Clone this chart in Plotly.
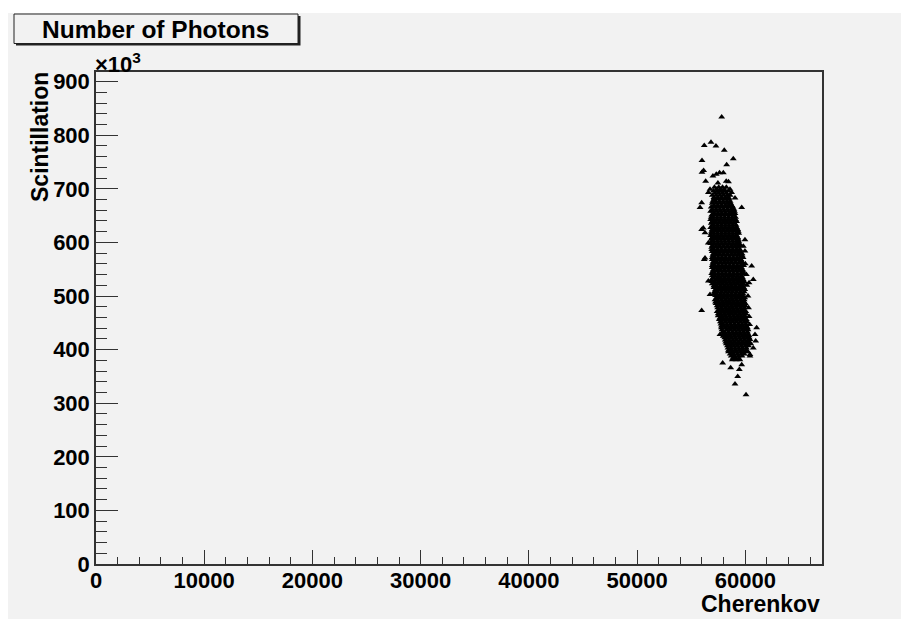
import plotly.graph_objects as go

# ---------------- data ----------------
# Dense core of the cloud: one scintillation value (x10^3) per row,
# with the Cherenkov values seen along that row.
body_scint = [703, 696, 688, 681, 673, 666, 658, 651, 643, 636, 628, 621, 613,
              606, 598, 591, 583, 576, 568, 561, 553, 546, 538, 531, 523, 516,
              508, 501, 493, 486, 478, 471, 463, 456, 448, 441, 433, 426, 418,
              411, 403, 396, 388, 381]
body_cherenkov = [
    [57150, 57550, 57900, 58250],
    [57050, 57400, 57750, 58100, 58450],
    [56950, 57300, 57650, 58000, 58350, 58600],
    [57100, 57450, 57800, 58150, 58500],
    [56950, 57300, 57650, 58000, 58350, 58650],
    [56850, 57150, 57500, 57850, 58200, 58550, 58850],
    [56800, 57000, 57350, 57700, 58050, 58400, 58750, 59000],
    [56900, 57200, 57550, 57900, 58250, 58600, 58950],
    [56800, 57050, 57400, 57750, 58100, 58450, 58800, 59100],
    [56850, 57250, 57600, 57950, 58300, 58650, 59000],
    [56800, 57100, 57450, 57800, 58150, 58500, 58850, 59200],
    [56900, 57250, 57600, 57950, 58300, 58650, 59000, 59350],
    [56800, 57100, 57450, 57800, 58150, 58500, 58850, 59200],
    [56850, 57250, 57600, 57950, 58300, 58650, 59000, 59350],
    [56800, 57100, 57450, 57800, 58150, 58500, 58850, 59200, 59450],
    [56900, 57250, 57600, 57950, 58300, 58650, 59000, 59350],
    [56950, 57100, 57450, 57800, 58150, 58500, 58850, 59200, 59550],
    [57000, 57300, 57650, 58000, 58350, 58700, 59050, 59400, 59700],
    [56950, 57150, 57500, 57850, 58200, 58550, 58900, 59250, 59600],
    [57000, 57350, 57700, 58050, 58400, 58750, 59100, 59450, 59750],
    [56950, 57200, 57550, 57900, 58250, 58600, 58950, 59300, 59650],
    [57000, 57350, 57700, 58050, 58400, 58750, 59100, 59450, 59800],
    [56950, 57200, 57550, 57900, 58250, 58600, 58950, 59300, 59650],
    [56900, 57350, 57700, 58050, 58400, 58750, 59100, 59450, 59800],
    [56950, 57200, 57550, 57900, 58250, 58600, 58950, 59300, 59650, 59850],
    [57100, 57400, 57750, 58100, 58450, 58800, 59150, 59500, 59850],
    [57150, 57450, 57800, 58150, 58500, 58850, 59200, 59550, 59900],
    [57250, 57600, 57950, 58300, 58650, 59000, 59350, 59700],
    [57200, 57450, 57800, 58150, 58500, 58850, 59200, 59550, 59900],
    [57300, 57650, 58000, 58350, 58700, 59050, 59400, 59750, 60000],
    [57450, 57800, 58150, 58500, 58850, 59200, 59550, 59900],
    [57400, 57650, 58000, 58350, 58700, 59050, 59400, 59750, 60050],
    [57500, 57850, 58200, 58550, 58900, 59250, 59600, 59950],
    [57600, 57700, 58050, 58400, 58750, 59100, 59450, 59800, 60100],
    [57750, 57950, 58300, 58650, 59000, 59350, 59700, 60050],
    [57800, 58150, 58500, 58850, 59200, 59550, 59900, 60200],
    [57900, 58100, 58450, 58800, 59150, 59500, 59850, 60200],
    [58000, 58300, 58650, 59000, 59350, 59700, 60050, 60350],
    [58150, 58500, 58850, 59200, 59550, 59900, 60250],
    [58250, 58450, 58800, 59150, 59500, 59850, 60200, 60500],
    [58400, 58700, 59050, 59400, 59750, 60100],
    [58450, 58850, 59200, 59550, 59900, 60250],
    [58700, 59000, 59350, 59700],
    [58800, 59150, 59500],
]

# Rows lying between the ones above (the core is saturated in the picture)
mid_scint = [699, 692, 684, 677, 669, 662, 654, 647, 639, 632, 624, 617, 609,
             602, 594, 587, 579, 572, 564, 557, 549, 542, 534, 527, 519, 512,
             504, 497, 489, 482, 474, 467, 459, 452, 444, 437, 429, 422, 414,
             407, 399, 392, 384]
mid_cherenkov = [
    [57350, 57700, 58050],
    [57200, 57550, 57900, 58250],
    [57100, 57450, 57800, 58150, 58450],
    [57000, 57250, 57600, 57950, 58300, 58600],
    [57100, 57450, 57800, 58150, 58450, 58750],
    [56950, 57300, 57650, 58000, 58350, 58700, 58950],
    [57100, 57450, 57800, 58150, 58500, 58800, 59050],
    [56850, 57050, 57400, 57750, 58100, 58450, 58800, 59100],
    [56950, 57250, 57600, 57950, 58300, 58650, 59000, 59200],
    [56950, 57100, 57450, 57800, 58150, 58500, 58850, 59150],
    [56950, 57300, 57650, 58000, 58350, 58700, 59050, 59300],
    [56850, 57100, 57450, 57800, 58150, 58500, 58850, 59200, 59400],
    [56950, 57300, 57650, 58000, 58350, 58700, 59050, 59300],
    [56900, 57050, 57400, 57750, 58100, 58450, 58800, 59150, 59400],
    [56950, 57300, 57650, 58000, 58350, 58700, 59050, 59350, 59550],
    [56900, 57100, 57450, 57800, 58150, 58500, 58850, 59200, 59500],
    [57050, 57300, 57650, 58000, 58350, 58700, 59050, 59400, 59700],
    [56950, 57150, 57500, 57850, 58200, 58550, 58900, 59250, 59550, 59800],
    [57050, 57350, 57700, 58050, 58400, 58750, 59100, 59450, 59700],
    [56950, 57150, 57500, 57850, 58200, 58550, 58900, 59250, 59600, 59850],
    [57050, 57400, 57750, 58100, 58450, 58800, 59150, 59500, 59750],
    [56900, 57150, 57500, 57850, 58200, 58550, 58900, 59250, 59600, 59850],
    [57050, 57400, 57750, 58100, 58450, 58800, 59150, 59500, 59750],
    [56900, 57150, 57500, 57850, 58200, 58550, 58900, 59250, 59600, 59900],
    [57100, 57350, 57700, 58050, 58400, 58750, 59100, 59450, 59750],
    [57250, 57600, 57950, 58300, 58650, 59000, 59350, 59700, 59950],
    [57100, 57350, 57700, 58050, 58400, 58750, 59100, 59450, 59800],
    [57350, 57650, 58000, 58350, 58700, 59050, 59400, 59750, 59950],
    [57250, 57500, 57850, 58200, 58550, 58900, 59250, 59600, 59900],
    [57400, 57650, 58000, 58350, 58700, 59050, 59400, 59750, 60000],
    [57550, 57850, 58200, 58550, 58900, 59250, 59600, 59900],
    [57500, 57700, 58050, 58400, 58750, 59100, 59450, 59800, 60050],
    [57650, 57900, 58250, 58600, 58950, 59300, 59650, 59950],
    [57700, 57800, 58150, 58500, 58850, 59200, 59550, 59900, 60150],
    [57800, 58000, 58350, 58700, 59050, 59400, 59750, 60100],
    [57850, 58300, 58650, 59000, 59350, 59700, 60050, 60250],
    [57950, 58150, 58500, 58850, 59200, 59550, 59900, 60250],
    [58100, 58400, 58750, 59100, 59450, 59800, 60150, 60350],
    [58200, 58350, 58650, 59000, 59350, 59700, 60050, 60350],
    [58350, 58600, 58950, 59300, 59650, 60000, 60300],
    [58450, 58700, 59050, 59400, 59750, 60100],
    [58600, 58900, 59250, 59600, 59900],
    [58850, 59100, 59400],
]

# Isolated points around the cloud
out_cherenkov = [57820, 56210, 56830, 57290, 58060, 58890, 56000, 58280, 56000,
                 56150, 57970, 57010, 57320, 57620, 56340, 57470, 58240, 58450,
                 56740, 56590, 58585, 58740, 59050, 55970, 55820, 59670, 56120,
                 56280, 55970, 59970, 59820, 56580, 59970, 56280, 56210, 60590,
                 60740, 60350, 56590, 56740, 55970, 61050, 60900, 60430, 60740,
                 60430, 57910, 58650, 59450, 59300, 59050, 60070, 59670, 57660,
                 57970, 60960, 60430, 60250, 60300, 60350, 60400, 60150, 60100,
                 60000]
out_scint = [834, 781, 787, 780, 772, 756, 753, 745, 731, 734, 730, 724, 727,
             730, 714, 711, 714, 713, 699, 693, 699, 693, 683, 674, 665, 665,
             627, 618, 624, 605, 593, 599, 584, 571, 568, 556, 531, 525, 528,
             503, 473, 441, 428, 419, 403, 388, 375, 366, 363, 350, 336, 316,
             372, 428, 425, 416, 391, 500, 478, 462, 447, 520, 540, 560]

x_ticks = [0, 10000, 20000, 30000, 40000, 50000, 60000]
y_ticks = [0, 100, 200, 300, 400, 500, 600, 700, 800, 900]
x_range = [0, 67090]
y_range = [0, 918]

# ---------------- build ----------------
xs, ys = [], []
for rows_y, rows_x in ((body_scint, body_cherenkov), (mid_scint, mid_cherenkov)):
    for yv, row in zip(rows_y, rows_x):
        for xv in row:
            xs.append(xv)
            ys.append(yv)
xs += out_cherenkov
ys += out_scint

W, H = 901, 619
L, R, T, B = 96, 822, 72, 564


def pxx(p):
    return (p - L) / (R - L)


def pxy(p):
    return (B - p) / (B - T)


BG = "#f2f2f2"
FONT = "Liberation Sans, Arial, Helvetica, sans-serif"
AX = "#333333"

fig = go.Figure()
fig.add_trace(go.Scatter(
    x=xs, y=ys, mode="markers",
    marker=dict(symbol="triangle-up", size=6, color="black", line=dict(width=0)),
    hoverinfo="skip", showlegend=False,
))

tickfont = dict(family=FONT, size=22, color="black", weight="bold")

fig.update_layout(
    width=W, height=H, autosize=False,
    margin=dict(l=L, r=W - R, t=T, b=H - B, pad=0),
    paper_bgcolor="white", plot_bgcolor=BG,
    showlegend=False,
    xaxis=dict(
        range=x_range, tickvals=x_ticks, ticktext=[str(v) for v in x_ticks],
        ticks="inside", ticklen=14, tickwidth=1.2, tickcolor=AX,
        minor=dict(dtick=2000, tick0=0, ticks="inside", ticklen=7, tickwidth=1.2,
                   tickcolor=AX, showgrid=False),
        showline=True, mirror=True, linecolor=AX, linewidth=1.5,
        showgrid=False, zeroline=False, tickfont=tickfont,
        ticklabelstandoff=-4,
    ),
    yaxis=dict(
        range=y_range, tickvals=y_ticks, ticktext=[str(v) for v in y_ticks],
        ticks="inside", ticklen=22, tickwidth=1.2, tickcolor=AX,
        minor=dict(dtick=20, tick0=0, ticks="inside", ticklen=11, tickwidth=1.2,
                   tickcolor=AX, showgrid=False),
        showline=True, mirror=True, linecolor=AX, linewidth=1.5,
        showgrid=False, zeroline=False, tickfont=tickfont,
    ),
)

shapes = [
    dict(type="rect", xref="paper", yref="paper", layer="below",
         x0=pxx(8), x1=pxx(901), y0=pxy(619), y1=pxy(13),
         fillcolor=BG, line=dict(width=0)),
    # title box shadow + box
    dict(type="rect", xref="paper", yref="paper",
         x0=pxx(16), x1=pxx(300.5), y0=pxy(45.5), y1=pxy(16),
         fillcolor="#222222", line=dict(width=0)),
    dict(type="rect", xref="paper", yref="paper",
         x0=pxx(14), x1=pxx(298), y0=pxy(43.5), y1=pxy(14),
         fillcolor=BG, line=dict(color="#222222", width=1)),
]
fig.update_layout(shapes=shapes)

annos = [
    dict(text="Number of Photons", x=pxx(155.5), y=pxy(30), xanchor="center",
         yanchor="middle", font=dict(family=FONT, size=24.5, color="black", weight="bold")),
    dict(text="Cherenkov", x=pxx(822), y=pxy(604), xanchor="right",
         yanchor="middle", font=dict(family=FONT, size=23, color="black", weight="bold")),
    dict(text="Scintillation", x=pxx(39.5), y=pxy(137.5), xanchor="center",
         yanchor="middle", textangle=-90,
         font=dict(family=FONT, size=23, color="black", weight="bold")),
    dict(text="×10<sup>3</sup>", x=pxx(93), y=pxy(79), xanchor="left",
         yanchor="bottom", font=dict(family=FONT, size=22, color="black", weight="bold")),
]
for a in annos:
    a.update(xref="paper", yref="paper", showarrow=False)
fig.update_layout(annotations=annos)

fig.write_html("out.html")
